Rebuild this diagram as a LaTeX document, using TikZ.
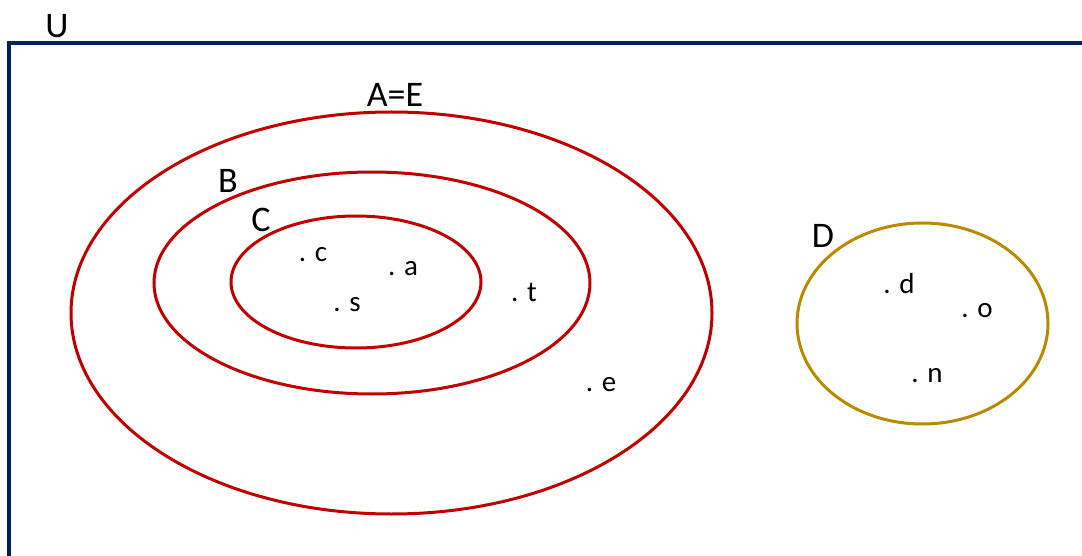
\documentclass[tikz,border=0pt]{standalone}
\usepackage{fontspec}
\setmainfont{Carlito}
\usepackage{xcolor}
\definecolor{frameblue}{RGB}{0,32,96}
\definecolor{setred}{RGB}{192,0,0}
\definecolor{setgold}{RGB}{184,138,0}

\begin{document}
\begin{tikzpicture}[x=1pt, y=-1pt,
    setname/.style={font=\fontsize{36}{36}\selectfont, inner sep=0pt},
    elem/.style={font=\fontsize{29}{29}\selectfont, inner sep=0pt},
    redset/.style={draw=setred, line width=3pt},
    goldset/.style={draw=setgold, line width=3pt}]
  \useasboundingbox (0,0) rectangle (1082,556);
  % universe
  \draw[frameblue, line width=3.2pt] (9,556) -- (9,43) -- (1082,43);
  \node[setname] (U) at (57,26) {U};
  % nested sets
  \draw[redset] (391.5,313) ellipse [x radius=320.5, y radius=201];
  \draw[redset] (372,283) ellipse [x radius=218, y radius=111];
  \draw[redset] (356,282) ellipse [x radius=125, y radius=66];
  \draw[goldset] (922.5,323.5) ellipse [x radius=125.5, y radius=100.5];
  \node[setname] (AE) at (395,95) {A=E};
  \node[setname] (B) at (228,181) {B};
  \node[setname] (C) at (261,220) {C};
  \node[setname] (D) at (823,236) {D};
  % elements
  \node[elem] (c) at (313,255) {. c};
  \node[elem] (a) at (403,269) {. a};
  \node[elem] (s) at (347,305) {. s};
  \node[elem] (t) at (524,292) {. t};
  \node[elem] (e) at (601,385) {. e};
  \node[elem] (d) at (899,284) {. d};
  \node[elem] (o) at (977,311) {. o};
  \node[elem] (n) at (927,376) {. n};
\end{tikzpicture}
\end{document}
